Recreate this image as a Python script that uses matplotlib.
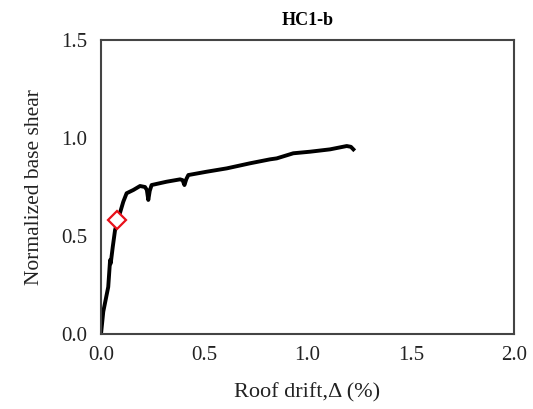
import matplotlib.pyplot as plt

# pushover curve
drift = [0.0, 0.011, 0.035, 0.044, 0.047, 0.057, 0.068, 0.084, 0.108, 0.124,
         0.157, 0.189, 0.213, 0.222, 0.229, 0.236, 0.245, 0.318, 0.383, 0.395,
         0.404, 0.413, 0.423, 0.512, 0.609, 0.722, 0.818, 0.851, 0.931, 1.012,
         1.109, 1.19, 1.21, 1.222]
shear = [0.0, 0.114, 0.24, 0.377, 0.36, 0.445, 0.53, 0.59, 0.675, 0.718,
         0.735, 0.755, 0.75, 0.735, 0.684, 0.73, 0.76, 0.777, 0.789, 0.785,
         0.76, 0.79, 0.811, 0.828, 0.845, 0.871, 0.891, 0.896, 0.922, 0.930,
         0.942, 0.959, 0.955, 0.942]

yield_drift = [0.079]
yield_shear = [0.582]

x_ticks = [0.0, 0.5, 1.0, 1.5, 2.0]
y_ticks = [0.0, 0.5, 1.0, 1.5]

plt.rcParams['font.family'] = ['Liberation Serif', 'DejaVu Serif']

fig = plt.figure(figsize=(5.33, 4.09), dpi=100)
ax = fig.add_axes([0.1895, 0.1834, 0.7749, 0.7188])

ax.plot(drift, shear, color='black', linewidth=2.8, solid_joinstyle='round')
ax.plot(yield_drift, yield_shear, linestyle='none', marker='D', markersize=9,
        markerfacecolor='white', markeredgecolor='#e8101a', markeredgewidth=1.6)

ax.set_xlim(0, 2.0)
ax.set_ylim(0, 1.5)
ax.set_xticks(x_ticks)
ax.set_yticks(y_ticks)
ax.set_xticklabels([f'{v:.1f}' for v in x_ticks])
ax.set_yticklabels([f'{v:.1f}' for v in y_ticks])
ax.tick_params(axis='x', length=0, labelsize=15, pad=9, colors='#222222')
ax.tick_params(axis='y', length=0, labelsize=15, pad=10, colors='#222222')

for s in ax.spines.values():
    s.set_color('#444444')
    s.set_linewidth(1.5)

ax.set_xlabel('Roof drift,\u0394 (%)', fontsize=16, labelpad=13, color='#222222')
ax.set_ylabel('Normalized base shear', fontsize=15.5, labelpad=12, color='#222222')
ax.set_title('HC1-b', fontsize=13, fontweight='bold', pad=11)

fig.savefig('out.png', dpi=100)
